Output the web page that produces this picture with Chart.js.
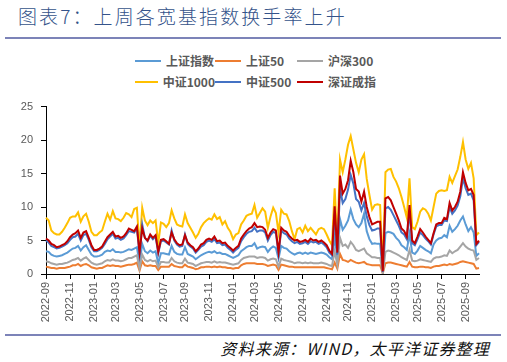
<!DOCTYPE html>
<html>
<head>
<meta charset="utf-8">
<script src="https://cdn.jsdelivr.net/npm/chart.js@4.4.1/dist/chart.umd.min.js"></script>
<style>
  body { margin: 0; width: 507px; height: 362px; background: #fff; position: relative; overflow: hidden; font-family: "Noto Sans CJK SC", sans-serif; }
  #title { position: absolute; left: 18px; top: 5px; font-size: 19px; font-weight: 300; line-height: 21px; color: #34538a; letter-spacing: 2.1px; white-space: nowrap; }
  .rule { position: absolute; left: 5px; width: 496px; height: 2px; background: #7c83b8; }
  #legend { position: absolute; left: 135px; top: 50px; display: grid; grid-template-columns: 80px 82px auto; grid-auto-rows: 21px; font-size: 12px; font-weight: bold; color: #595959; }
  .item { display: flex; align-items: center; white-space: nowrap; }
  .item i { display: inline-block; width: 26px; height: 2px; margin-right: 5px; }
  #source { position: absolute; right: 17px; top: 339px; font-size: 16px; font-style: italic; line-height: 19px; color: #111; letter-spacing: 1.2px; white-space: nowrap; }
  #chart { position: absolute; left: 0; top: 92px; }
</style>
</head>
<body>
<div id="title">图表7：上周各宽基指数换手率上升</div>
<div class="rule" style="top:37px"></div>
<div id="legend"></div>
<canvas id="chart" width="507" height="236"></canvas>
<div class="rule" style="top:334px"></div>
<div id="source">资料来源：WIND，太平洋证券整理</div>
<script>
// weekly turnover (%), one point per Friday from 2022-09-02
const weeks = [];
for (let d = new Date(Date.UTC(2022, 8, 2)); weeks.length < 163; d.setUTCDate(d.getUTCDate() + 7)) {
  weeks.push(d.toISOString().slice(0, 10));
}

const seriesNames = ['上证指数', '上证50', '沪深300', '中证1000', '中证500', '深证成指'];

const shIndex = [
  3.4, 3.3, 2.9, 2.7, 2.6, 2.7, 2.8, 3.0, 3.2, 3.5,
  3.8, 3.9, 4.2, 3.5, 4.0, 4.3, 3.6, 2.9, 2.6, 2.6,
  2.7, 2.9, 3.3, 3.5, 3.4, 3.7, 3.3, 3.3, 3.2, 3.3,
  3.5, 3.7, 3.6, 3.8, 4.0, 1.5, 4.5, 3.4, 3.1, 3.5,
  3.2, 3.4, 1.6, 3.1, 3.1, 3.0, 2.9, 4.2, 3.3, 3.0,
  2.9, 2.9, 4.0, 3.0, 2.8, 2.6, 2.2, 2.5, 2.8, 3.0,
  3.2, 3.3, 3.2, 3.4, 3.1, 3.2, 3.0, 3.0, 2.8, 2.6,
  2.4, 2.6, 2.8, 3.4, 3.7, 4.0, 4.2, 4.2, 4.6, 3.8,
  4.0, 4.1, 4.0, 3.3, 3.8, 4.1, 3.9, 2.3, 4.2, 3.9,
  3.8, 3.4, 3.1, 2.9, 3.1, 3.2, 3.0, 3.2, 3.0, 3.2,
  3.1, 3.0, 3.1, 3.2, 3.1, 2.9, 2.5, 2.2, 5.5, 2.4,
  8.2, 6.6, 7.2, 8.0, 9.6, 8.2, 7.4, 7.0, 7.6, 9.0,
  6.4, 5.2, 4.5, 4.6, 4.5, 4.5, 0.2, 6.1, 6.3, 6.2,
  6.0, 5.4, 5.0, 4.3, 4.0, 3.6, 6.0, 3.2, 3.0, 3.5,
  4.2, 3.9, 3.6, 3.4, 3.1, 4.4, 5.0, 5.3, 5.4, 5.8,
  5.5, 7.2, 6.3, 6.7, 7.2, 8.0, 8.6, 7.4, 6.4, 7.0,
  6.2, 2.7, 3.1
];

const sz50 = [
  1.1, 1.0, 0.9, 0.9, 0.8, 0.9, 0.9, 0.9, 1.0, 1.1,
  1.3, 1.3, 1.5, 1.2, 1.4, 1.5, 1.3, 1.0, 0.9, 0.8,
  0.9, 0.9, 1.1, 1.3, 1.2, 1.3, 1.2, 1.2, 1.1, 1.2,
  1.3, 1.4, 1.4, 1.5, 1.7, 0.5, 1.9, 1.3, 1.2, 1.3,
  1.2, 1.2, 0.6, 1.1, 1.1, 1.1, 1.1, 1.5, 1.2, 1.1,
  1.0, 1.0, 1.4, 1.1, 1.0, 0.9, 0.7, 0.8, 1.0, 1.0,
  1.1, 1.1, 1.0, 1.1, 1.0, 1.1, 1.0, 1.0, 0.9, 0.9,
  0.8, 0.9, 0.9, 1.3, 1.5, 1.6, 1.6, 1.6, 1.6, 1.5,
  1.5, 1.5, 1.4, 1.2, 1.3, 1.4, 1.3, 0.6, 1.4, 1.3,
  1.2, 1.1, 1.1, 1.0, 1.0, 1.0, 1.0, 1.0, 1.0, 1.0,
  1.0, 1.0, 1.0, 1.0, 1.0, 0.9, 0.8, 0.7, 1.7, 0.8,
  3.0, 2.1, 2.0, 1.8, 2.1, 1.9, 1.7, 1.6, 1.7, 1.8,
  1.5, 1.4, 1.3, 1.3, 1.3, 1.3, 0.1, 1.6, 1.7, 1.7,
  1.6, 1.5, 1.4, 1.3, 1.2, 1.1, 1.8, 1.1, 1.0, 1.0,
  1.1, 1.1, 1.0, 1.0, 0.9, 1.1, 1.2, 1.2, 1.3, 1.4,
  1.3, 1.5, 1.4, 1.5, 1.6, 1.8, 1.9, 1.8, 1.7, 1.6,
  1.5, 0.8, 0.9
];

const hs300 = [
  1.9, 1.8, 1.6, 1.5, 1.4, 1.5, 1.5, 1.6, 1.7, 1.9,
  2.1, 2.2, 2.4, 2.0, 2.3, 2.5, 2.1, 1.7, 1.5, 1.4,
  1.5, 1.6, 1.9, 2.1, 2.0, 2.2, 2.0, 2.0, 1.9, 2.0,
  2.2, 2.4, 2.4, 2.6, 2.8, 0.8, 2.9, 2.1, 1.9, 2.1,
  1.9, 2.0, 1.0, 1.8, 1.8, 1.7, 1.7, 2.4, 1.9, 1.7,
  1.6, 1.6, 2.3, 1.7, 1.6, 1.5, 1.2, 1.4, 1.6, 1.7,
  1.8, 1.8, 1.7, 1.9, 1.7, 1.8, 1.7, 1.7, 1.6, 1.5,
  1.4, 1.5, 1.6, 2.1, 2.4, 2.5, 2.6, 2.6, 2.6, 2.4,
  2.5, 2.5, 2.4, 2.0, 2.2, 2.3, 2.2, 1.1, 2.3, 2.1,
  2.0, 1.9, 1.8, 1.6, 1.7, 1.7, 1.6, 1.7, 1.6, 1.7,
  1.6, 1.6, 1.6, 1.7, 1.6, 1.5, 1.3, 1.2, 3.4, 1.4,
  5.4, 4.2, 4.4, 3.9, 4.8, 4.3, 3.6, 3.4, 3.6, 3.8,
  3.1, 2.8, 2.5, 2.5, 2.4, 2.4, 0.1, 3.3, 3.5, 3.4,
  3.2, 3.0, 2.8, 2.5, 2.3, 2.1, 3.6, 2.0, 1.9, 2.0,
  2.2, 2.1, 2.0, 1.9, 1.8, 2.3, 2.5, 2.5, 2.6, 2.8,
  2.7, 3.5, 3.1, 3.4, 3.6, 4.1, 4.6, 4.1, 3.8, 3.6,
  3.5, 2.1, 2.4
];

const zz1000 = [
  8.4, 8.0, 6.5, 6.1, 5.9, 5.9, 6.3, 6.9, 7.6, 8.4,
  8.6, 8.6, 9.2, 7.8, 8.6, 9.0, 7.8, 6.3, 5.8, 5.8,
  6.2, 6.5, 7.8, 9.0, 8.1, 9.4, 8.3, 8.2, 7.9, 8.4,
  9.1, 8.9, 8.5, 9.7, 9.9, 4.0, 9.9, 8.0, 7.3, 8.0,
  7.6, 8.0, 4.6, 7.7, 7.5, 7.0, 7.6, 9.5, 8.3, 7.4,
  7.2, 7.1, 8.9, 7.6, 6.9, 6.2, 5.4, 6.0, 7.0, 7.6,
  8.0, 8.3, 8.1, 8.9, 8.2, 8.5, 7.4, 7.9, 6.9, 6.3,
  5.2, 5.9, 6.1, 7.4, 8.0, 8.7, 8.9, 9.0, 10.3, 8.4,
  9.1, 9.8, 9.3, 6.9, 8.6, 9.9, 9.1, 6.2, 9.6, 9.0,
  8.9, 7.9, 6.4, 5.2, 6.7, 6.9, 6.2, 7.2, 6.4, 6.9,
  6.4, 5.9, 6.7, 6.9, 6.7, 5.9, 5.0, 4.3, 12.8, 4.5,
  17.1, 15.2, 17.1, 19.3, 20.6, 18.6, 16.6, 15.2, 17.1, 17.9,
  14.2, 11.8, 9.6, 10.3, 10.4, 10.3, 0.5, 15.2, 15.6, 15.7,
  14.5, 13.8, 12.8, 11.5, 10.0, 8.4, 14.3, 7.0, 6.7, 7.8,
  9.3, 9.8, 9.6, 9.0, 8.0, 10.0, 12.0, 12.4, 12.5, 12.4,
  12.5, 14.5, 13.6, 14.6, 15.6, 17.5, 19.7, 17.1, 15.7, 16.6,
  14.3, 5.8, 6.2
];

const zz500 = [
  5.0, 4.7, 4.2, 4.0, 3.8, 3.9, 4.1, 4.3, 4.6, 5.1,
  5.5, 5.6, 6.0, 5.0, 5.8, 6.0, 5.1, 4.0, 3.4, 3.4,
  3.6, 3.9, 4.5, 5.2, 5.6, 6.0, 5.3, 5.4, 5.1, 5.3,
  5.8, 6.4, 6.3, 6.2, 6.9, 2.9, 7.4, 5.4, 4.9, 5.7,
  5.2, 5.6, 3.1, 4.9, 5.0, 4.7, 4.4, 6.5, 5.0, 4.4,
  4.1, 4.2, 5.9, 4.5, 4.1, 3.8, 3.2, 3.6, 4.1, 4.3,
  4.8, 5.0, 4.8, 5.2, 4.6, 4.7, 4.3, 4.4, 3.9, 3.6,
  3.2, 3.6, 3.9, 4.9, 5.5, 6.0, 6.3, 6.4, 6.9, 6.3,
  6.5, 6.5, 6.2, 5.0, 5.8, 6.3, 6.1, 3.0, 6.5, 6.1,
  5.9, 5.3, 4.9, 4.6, 4.8, 4.5, 4.6, 4.8, 4.5, 4.9,
  4.7, 4.8, 4.5, 4.7, 4.4, 4.0, 3.2, 2.8, 9.0, 2.9,
  12.8, 10.6, 11.2, 12.6, 14.8, 13.5, 11.2, 10.8, 9.5, 10.6,
  8.6, 7.3, 6.5, 6.6, 6.8, 6.8, 0.3, 9.8, 10.0, 9.6,
  8.8, 8.0, 7.2, 6.2, 5.9, 5.2, 9.3, 4.6, 4.3, 5.2,
  6.2, 5.8, 5.3, 4.9, 4.4, 5.9, 7.1, 7.3, 7.3, 8.0,
  7.9, 10.0, 9.0, 9.5, 10.2, 11.6, 14.3, 12.8, 11.8, 12.0,
  11.0, 4.3, 4.8
];

const szIndex = [
  5.3, 5.0, 4.5, 4.3, 4.0, 4.1, 4.3, 4.5, 4.9, 5.5,
  5.9, 6.1, 6.5, 5.4, 6.2, 6.4, 5.4, 4.3, 3.6, 3.6,
  3.8, 4.1, 4.8, 5.5, 5.9, 6.3, 5.6, 5.7, 5.4, 5.6,
  6.1, 6.8, 6.6, 6.4, 7.1, 3.2, 6.8, 5.4, 5.0, 5.9,
  5.4, 5.8, 3.3, 5.1, 5.2, 4.9, 4.5, 6.2, 5.2, 4.6,
  4.3, 4.4, 5.8, 4.7, 4.3, 4.0, 3.4, 3.8, 4.4, 4.6,
  5.1, 5.3, 5.1, 5.6, 4.9, 5.0, 4.6, 4.7, 4.2, 3.9,
  3.5, 3.9, 4.2, 5.3, 5.9, 6.4, 6.8, 7.0, 7.6, 7.0,
  7.1, 7.0, 6.6, 5.4, 6.2, 6.7, 6.5, 3.3, 6.9, 6.5,
  6.3, 5.7, 5.3, 5.0, 5.1, 4.8, 4.9, 5.1, 4.8, 5.3,
  5.0, 5.1, 4.8, 5.0, 4.7, 4.3, 3.5, 3.0, 10.1, 3.2,
  14.7, 12.0, 12.7, 14.0, 16.9, 15.2, 12.7, 12.3, 10.8, 12.3,
  10.0, 8.5, 7.4, 7.6, 7.8, 7.8, 0.4, 11.3, 11.5, 11.0,
  10.0, 9.0, 8.0, 6.8, 6.4, 5.6, 10.3, 5.0, 4.6, 5.6,
  6.7, 6.2, 5.6, 5.1, 4.6, 6.1, 7.4, 7.6, 7.6, 8.4,
  8.2, 10.6, 9.5, 10.0, 10.8, 12.3, 15.2, 13.6, 12.5, 12.7,
  11.8, 4.5, 5.0
];

const seriesData = [shIndex, sz50, hs300, zz1000, zz500, szIndex];
const colors = ['#5b9bd5', '#ed7d31', '#a5a5a5', '#ffc000', '#4472c4', '#c00000'];

// x ticks: first week of every odd month
const tickWeeks = [];
weeks.forEach((w, i) => {
  const m = +w.slice(5, 7);
  if (m % 2 === 1 && (i === 0 || weeks[i - 1].slice(5, 7) !== w.slice(5, 7))) tickWeeks.push(i);
});

const legend = document.getElementById('legend');
seriesNames.forEach((name, k) => {
  legend.insertAdjacentHTML('beforeend', `<div class="item"><i style="background:${colors[k]}"></i>${name}</div>`);
});

const tickFont = { family: 'Liberation Sans', size: 11 };

new Chart(document.getElementById('chart'), {
  type: 'line',
  data: {
    labels: weeks,
    datasets: seriesNames.map((name, k) => ({
      label: name,
      data: seriesData[k],
      borderColor: colors[k],
      backgroundColor: colors[k],
      borderWidth: 2,
      pointRadius: 0,
      tension: 0,
      order: seriesNames.length - k
    }))
  },
  options: {
    responsive: false,
    animation: false,
    layout: { padding: { left: 6, right: 28, top: 11, bottom: 0 } },
    plugins: { legend: { display: false }, tooltip: { enabled: false } },
    scales: {
      x: {
        grid: { drawOnChartArea: false, color: '#000', tickLength: 5 },
        border: { color: '#000' },
        ticks: {
          autoSkip: false, minRotation: 90, maxRotation: 90, padding: 3,
          color: '#595959', font: tickFont,
          callback(v) { return this.getLabelForValue(v).slice(0, 7); }
        },
        afterBuildTicks(scale) { scale.ticks = scale.ticks.filter(t => tickWeeks.includes(t.value)); },
        afterFit(scale) { scale.height = 54; }
      },
      y: {
        min: 0, max: 25,
        grid: { drawOnChartArea: false, color: '#000', tickLength: 5 },
        border: { color: '#000' },
        ticks: { stepSize: 5, padding: 8, color: '#595959', font: tickFont },
        afterFit(scale) { scale.width = 40; }
      }
    }
  }
});
</script>
</body>
</html>
